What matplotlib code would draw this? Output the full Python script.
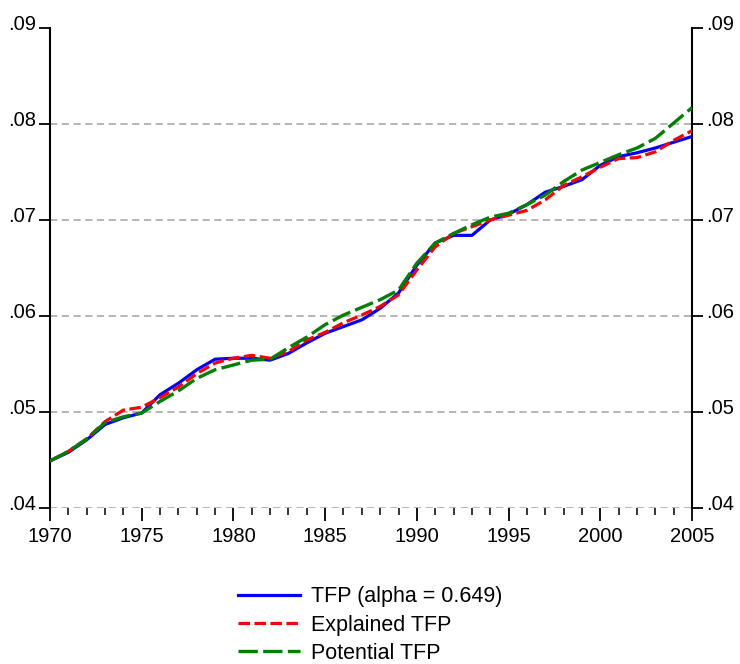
import matplotlib
matplotlib.use("Agg")
import matplotlib.pyplot as plt
import matplotlib.transforms as mtransforms
from matplotlib.ticker import FuncFormatter, MultipleLocator

plt.rcParams['font.family'] = ['Liberation Sans', 'DejaVu Sans']

years = list(range(1970, 2006))
tfp = [0.0449, 0.0458, 0.0471, 0.0487, 0.0494, 0.0499, 0.0518, 0.0530, 0.0544, 0.0555,
       0.0556, 0.0556, 0.0554, 0.0561, 0.0572, 0.0582, 0.0589, 0.0596, 0.0608, 0.0624,
       0.0653, 0.0676, 0.0684, 0.0684, 0.0700, 0.0706, 0.0716, 0.0729, 0.0735, 0.0742,
       0.0757, 0.0766, 0.0770, 0.0775, 0.0781, 0.0787]
explained = [0.0449, 0.0459, 0.0472, 0.0490, 0.0502, 0.0505, 0.0515, 0.0526, 0.0540, 0.0551,
             0.0556, 0.0559, 0.0556, 0.0563, 0.0575, 0.0583, 0.0593, 0.0601, 0.0610, 0.0622,
             0.0648, 0.0672, 0.0686, 0.0693, 0.0700, 0.0705, 0.0710, 0.0721, 0.0736, 0.0745,
             0.0755, 0.0764, 0.0765, 0.0771, 0.0783, 0.0793]
potential = [0.0449, 0.0459, 0.0472, 0.0489, 0.0495, 0.0499, 0.0511, 0.0522, 0.0535, 0.0544,
             0.0549, 0.0554, 0.0555, 0.0567, 0.0578, 0.0591, 0.0601, 0.0609, 0.0617, 0.0627,
             0.0655, 0.0676, 0.0686, 0.0695, 0.0703, 0.0707, 0.0716, 0.0726, 0.0740, 0.0752,
             0.0760, 0.0768, 0.0775, 0.0785, 0.0801, 0.0817]
labels = ["TFP (alpha = 0.649)", "Explained TFP", "Potential TFP"]

fig = plt.figure(figsize=(7.4, 6.64), dpi=100)
ax = fig.add_axes([50/740, 1-508/664, 642/740, 480/664])

for y in [0.04, 0.05, 0.06, 0.07, 0.08]:
    ax.axhline(y, color='#b0b0b0', linestyle=(0, (4, 2.5)), linewidth=1.3, zorder=1)

ax.plot(years, tfp, color='#0000ff', linewidth=2.3, label=labels[0], zorder=3)
ax.plot(years, explained, color='#ff0000', linewidth=2.3, linestyle=(0, (3.6, 1.4)), label=labels[1], zorder=4)
ax.plot(years, potential, color='#008000', linewidth=2.4, linestyle=(0, (5.8, 1.6)), label=labels[2], zorder=5)

ax.set_xlim(1970, 2005)
ax.set_ylim(0.04, 0.09)
ax.spines['top'].set_visible(False)
ax.spines['bottom'].set_visible(False)
for s in ['left', 'right']:
    ax.spines[s].set_linewidth(1.5)
    ax.spines[s].set_color('black')

ax.xaxis.set_major_locator(MultipleLocator(5))
ax.xaxis.set_minor_locator(MultipleLocator(1))
ax.yaxis.set_major_locator(MultipleLocator(0.01))
fmt = FuncFormatter(lambda v, p: ("%.2f" % v).lstrip('0'))
ax.yaxis.set_major_formatter(fmt)
ax.tick_params(axis='y', which='both', direction='out', length=8, width=1.3,
               labelsize=14.5, left=True, right=True, labelleft=True, labelright=True, pad=2)
ax.tick_params(axis='x', which='major', direction='out', length=9, width=1.3, labelsize=14.5, pad=5)
ax.tick_params(axis='x', which='minor', direction='out', length=5, width=1.1)

off = mtransforms.ScaledTranslation(0, 4/72, fig.dpi_scale_trans)
for t in ax.yaxis.get_major_ticks():
    t.label1.set_transform(t.label1.get_transform() + off)
    t.label2.set_transform(t.label2.get_transform() + off)

leg = fig.legend(loc='center', bbox_to_anchor=(370/740, 1-625/664), frameon=False,
                 fontsize=15.5, handlelength=2.9, handletextpad=0.5, labelspacing=0.33,
                 borderpad=0.2)

fig.savefig('out.png', dpi=100)
